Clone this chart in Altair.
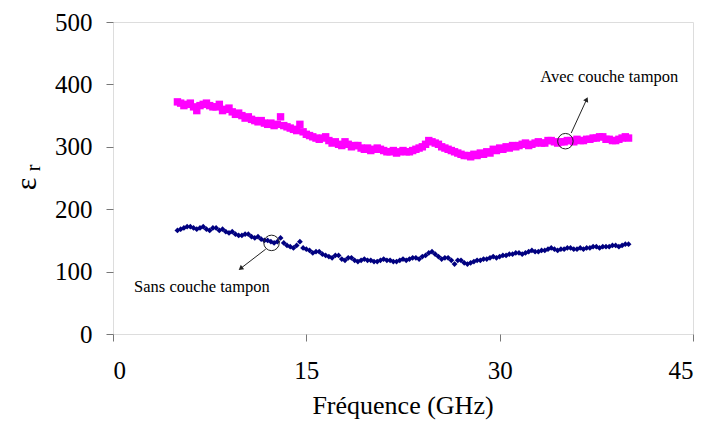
import altair as alt
import pandas as pd

# Frequencies (GHz), 0.25 GHz step, 5 -> 40
freq = [5.00, 5.25, 5.50, 5.75, 6.00, 6.25, 6.50, 6.75, 7.00, 7.25, 7.50, 7.75,
        8.00, 8.25, 8.50, 8.75, 9.00, 9.25, 9.50, 9.75, 10.00, 10.25, 10.50, 10.75,
        11.00, 11.25, 11.50, 11.75, 12.00, 12.25, 12.50, 12.75, 13.00, 13.25, 13.50, 13.75,
        14.00, 14.25, 14.50, 14.75, 15.00, 15.25, 15.50, 15.75, 16.00, 16.25, 16.50, 16.75,
        17.00, 17.25, 17.50, 17.75, 18.00, 18.25, 18.50, 18.75, 19.00, 19.25, 19.50, 19.75,
        20.00, 20.25, 20.50, 20.75, 21.00, 21.25, 21.50, 21.75, 22.00, 22.25, 22.50, 22.75,
        23.00, 23.25, 23.50, 23.75, 24.00, 24.25, 24.50, 24.75, 25.00, 25.25, 25.50, 25.75,
        26.00, 26.25, 26.50, 26.75, 27.00, 27.25, 27.50, 27.75, 28.00, 28.25, 28.50, 28.75,
        29.00, 29.25, 29.50, 29.75, 30.00, 30.25, 30.50, 30.75, 31.00, 31.25, 31.50, 31.75,
        32.00, 32.25, 32.50, 32.75, 33.00, 33.25, 33.50, 33.75, 34.00, 34.25, 34.50, 34.75,
        35.00, 35.25, 35.50, 35.75, 36.00, 36.25, 36.50, 36.75, 37.00, 37.25, 37.50, 37.75,
        38.00, 38.25, 38.50, 38.75, 39.00, 39.25, 39.50, 39.75, 40.00]

# Avec couche tampon (magenta squares)
avec = [372, 370, 366, 368, 370, 364, 358, 366, 368, 370, 366, 364,
        364, 368, 358, 360, 362, 356, 352, 354, 350, 346, 348, 344,
        342, 340, 342, 338, 336, 338, 334, 336, 348, 334, 332, 330,
        328, 326, 336, 324, 320, 318, 316, 314, 312, 314, 316, 310,
        306, 308, 304, 302, 308, 304, 300, 302, 302, 298, 296, 298,
        294, 296, 298, 296, 294, 292, 292, 294, 290, 292, 294, 292,
        292, 294, 296, 298, 300, 304, 310, 308, 306, 304, 300, 298,
        296, 294, 292, 290, 288, 286, 286, 284, 288, 286, 290, 288,
        292, 290, 296, 294, 298, 296, 300, 298, 302, 300, 302, 304,
        306, 302, 304, 306, 308, 306, 306, 310, 310, 308, 306, 308,
        308, 310, 310, 308, 312, 310, 310, 312, 312, 314, 314, 316,
        316, 312, 312, 310, 310, 312, 314, 316, 314]

# Sans couche tampon (navy diamonds)
sans = [166, 168, 170, 172, 172, 170, 168, 170, 172, 168, 166, 170,
        170, 166, 168, 164, 162, 164, 160, 158, 158, 160, 160, 156,
        154, 156, 152, 150, 150, 148, 146, 148, 154, 146, 142, 140,
        138, 142, 148, 138, 136, 134, 130, 132, 132, 128, 126, 124,
        122, 126, 126, 120, 118, 122, 122, 118, 116, 118, 120, 118,
        118, 116, 116, 118, 120, 118, 118, 116, 116, 118, 120, 118,
        120, 122, 122, 120, 124, 126, 130, 132, 128, 124, 120, 122,
        122, 118, 112, 118, 118, 114, 112, 114, 116, 118, 118, 120,
        120, 122, 124, 122, 124, 126, 126, 128, 128, 130, 130, 128,
        130, 132, 134, 132, 132, 134, 134, 136, 138, 136, 134, 136,
        136, 138, 138, 136, 136, 138, 136, 138, 138, 140, 140, 138,
        140, 140, 140, 142, 142, 140, 142, 144, 144]

series_names = ["Avec couche tampon", "Sans couche tampon"]
series_colors = ["#FF00FF", "#000080"]
x_ticks = [0, 15, 30, 45]
y_ticks = [0, 100, 200, 300, 400, 500]
x_title = ["Fréquence (GHz)"]

# Annotations (data coordinates)
ann_text = ["Avec couche tampon", "Sans couche tampon"]
ann_tx = [38.5, 6.9]
ann_ty = [404, 67]
circ_x = [35.1, 12.3]
circ_y = [309, 146]
arr_x1 = [35.55, 11.85]
arr_y1 = [322, 136]
arr_x2 = [36.75, 9.9]
arr_y2 = [376, 105]
arr_angle = [25, 232]

FONT = "Liberation Serif, Times New Roman, DejaVu Serif, serif"
FONT_T = "Times New Roman"

df_a = pd.DataFrame({"f": freq, "v": avec, "s": series_names[0]})
df_s = pd.DataFrame({"f": freq, "v": sans, "s": series_names[1]})

xscale = alt.Scale(domain=[0, 45], nice=False)
yscale = alt.Scale(domain=[0, 500], nice=False)

xaxis = alt.Axis(values=x_ticks, title=None, grid=False, domain=False,
                 tickSize=7, tickColor="#777777", tickWidth=1,
                 labelFont=FONT, labelFontSize=25, labelColor="black", labelPadding=17)
yaxis = alt.Axis(values=y_ticks, title=None, grid=False, domain=False,
                 tickSize=7, tickColor="#777777", tickWidth=1,
                 labelFont=FONT, labelFontSize=25, labelColor="black", labelPadding=14)

pts_a = alt.Chart(df_a).mark_point(shape="square", filled=True, size=55, opacity=1,
                                   color=series_colors[0]).encode(
    x=alt.X("f:Q", scale=xscale, axis=xaxis),
    y=alt.Y("v:Q", scale=yscale, axis=yaxis),
)
pts_s = alt.Chart(df_s).mark_point(shape="diamond", filled=True, size=34, opacity=1,
                                   color=series_colors[1]).encode(
    x=alt.X("f:Q", scale=xscale),
    y=alt.Y("v:Q", scale=yscale),
)

ann = pd.DataFrame({"t": ann_text, "tx": ann_tx, "ty": ann_ty,
                    "cx": circ_x, "cy": circ_y,
                    "x1": arr_x1, "y1": arr_y1, "x2": arr_x2, "y2": arr_y2,
                    "ang": arr_angle})

texts = alt.Chart(ann).mark_text(font=FONT, fontSize=16.5, color="black",
                                 align="center", baseline="alphabetic").encode(
    x=alt.X("tx:Q", scale=xscale), y=alt.Y("ty:Q", scale=yscale), text="t:N")
circles = alt.Chart(ann).mark_point(shape="circle", filled=False, size=240,
                                    color="#222222", strokeWidth=1, opacity=1).encode(
    x=alt.X("cx:Q", scale=xscale), y=alt.Y("cy:Q", scale=yscale))
arrows = alt.Chart(ann).mark_rule(color="#222222", strokeWidth=1).encode(
    x=alt.X("x1:Q", scale=xscale), y=alt.Y("y1:Q", scale=yscale),
    x2="x2:Q", y2="y2:Q")
heads = alt.Chart(ann).mark_point(shape="triangle-up", filled=True, size=30,
                                  color="#222222", opacity=1).encode(
    x=alt.X("x2:Q", scale=xscale), y=alt.Y("y2:Q", scale=yscale),
    angle=alt.Angle("ang:Q", scale=None))

tdf = pd.DataFrame({"t": x_title})
xtitle = alt.Chart(tdf).mark_text(font=FONT_T, fontSize=26,
                                  align="center", baseline="middle", color="black").encode(
    x=alt.value(290), y=alt.value(384), text="t:N")

single = pd.DataFrame({"a": [0]})
eps = alt.Chart(single).mark_text(text="ε", font=FONT_T, fontSize=30, angle=270,
                                  align="center", baseline="middle", color="black").encode(
    x=alt.value(-86), y=alt.value(162))
sub_r = alt.Chart(single).mark_text(text="r", font=FONT_T, fontSize=20, angle=270,
                                    align="center", baseline="middle", color="black").encode(
    x=alt.value(-79), y=alt.value(146))

chart = alt.layer(pts_a, pts_s, circles, arrows, heads, texts, xtitle, eps, sub_r).properties(
    width=580, height=312,
    autosize=alt.AutoSizeParams(type="none"),
    padding={"left": 105, "top": 14, "right": 6, "bottom": 90},
).configure_view(stroke="black", strokeWidth=3).configure(background="white")

chart.save("out.html", embed_options={"renderer": "svg", "actions": False})
